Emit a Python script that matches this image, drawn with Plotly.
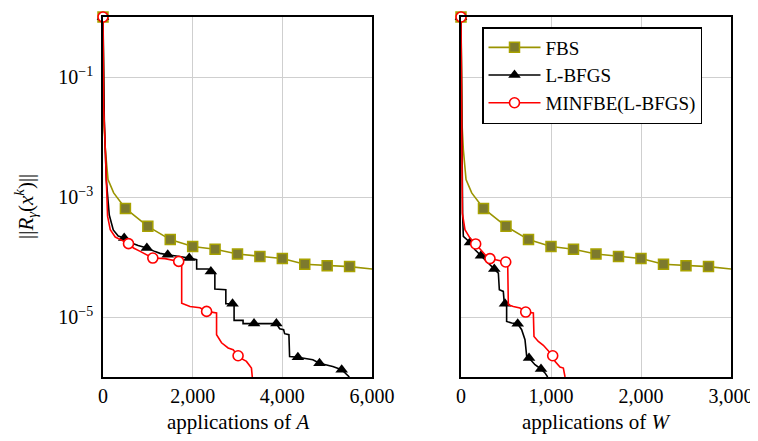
import plotly.graph_objects as go

# ---------------- data ----------------
# FBS: same residual sequence, counted in applications of A and of W
fbs_A_x = [0, 8, 24, 52, 112, 238, 386, 500, 1000, 1500, 2000, 2500, 3000, 3500, 4000, 4500, 5000, 5500, 6000]
fbs_W_x = [0, 4, 12, 26, 56, 119, 193, 250, 500, 750, 1000, 1250, 1500, 1750, 2000, 2250, 2500, 2750, 3000]
fbs_y = [1.0, 0.1, 1.58e-2, 6.2e-3, 1.95e-3, 1.17e-3, 8.5e-4, 6.46e-4, 3.24e-4, 1.95e-4, 1.5e-4,
         1.35e-4, 1.12e-4, 1.02e-4, 9.44e-5, 7.59e-5, 7.16e-5, 6.92e-5, 6.31e-5]
fbs_marks = [0, 7, 8, 9, 10, 11, 12, 13, 14, 15, 16, 17]

# L-BFGS vs applications of A
lb_A_x = [0, 29, 73, 140, 229, 340, 473, 607, 784, 978, 1162, 1273, 1444, 1718, 1924, 2089, 2089, 2347,
          2406, 2495, 2495, 2740, 2740, 2889, 2924, 2924, 3124, 3124, 3369, 3867, 3940, 4029, 4051, 4147,
          4162, 4347, 4680, 4829, 5125, 5324, 5495]
lb_A_y = [1.0, 1.95e-2, 1.95e-3, 5.0e-4, 2.82e-4, 2.24e-4, 2.07e-4, 1.74e-4, 1.55e-4, 1.41e-4, 1.23e-4,
          1.15e-4, 1.09e-4, 1.02e-4, 9.6e-5, 9.0e-5, 6.31e-5, 6.31e-5, 5.75e-5, 5.5e-5, 2.93e-5, 2.85e-5,
          1.66e-5, 1.66e-5, 1.60e-5, 8.77e-6, 8.77e-6, 7.76e-6, 7.76e-6, 7.76e-6, 6.38e-6, 6.14e-6, 5.27e-6,
          5.07e-6, 2.2e-6, 2.14e-6, 1.94e-6, 1.70e-6, 1.50e-6, 1.32e-6, 1.0e-6]
lb_A_marks = [0, 6, 9, 12, 14, 18, 23, 28, 29, 35, 37, 39]

# MINFBE(L-BFGS) vs applications of A
mf_A_x = [0, 15, 51, 102, 162, 273, 569, 680, 829, 940, 1111, 1384, 1689, 1755, 1755, 1940, 2162, 2311,
          2533, 2533, 2644, 2791, 2902, 3013, 3100, 3200, 3311, 3330]
mf_A_y = [1.0, 3.16e-2, 6.2e-3, 4.8e-4, 2.85e-4, 2.15e-4, 1.67e-4, 1.41e-4, 1.24e-4, 1.135e-4, 9.6e-5,
          9.4e-5, 8.45e-5, 7.94e-5, 1.70e-5, 1.50e-5, 1.43e-5, 1.24e-5, 1.17e-5, 5.07e-6, 3.72e-6, 3.05e-6,
          2.85e-6, 2.26e-6, 2.0e-6, 1.82e-6, 1.41e-6, 1.0e-6]
mf_A_marks = [0, 6, 10, 12, 17, 23]

# L-BFGS vs applications of W
lb_W_x = [0, 3, 10, 18, 26, 100, 156, 222, 303, 370, 415, 426, 470, 481, 489, 507, 507, 563, 630, 674,
          711, 730, 756, 822, 889, 933, 963]
lb_W_y = [1.0, 0.1, 3.16e-3, 5.0e-4, 2.2e-4, 1.75e-4, 1.32e-4, 1.05e-4, 7.94e-5, 6.31e-5, 5.4e-5, 2.85e-5,
          2.67e-5, 1.70e-5, 1.67e-5, 1.50e-5, 8.45e-6, 7.94e-6, 7.73e-6, 6.14e-6, 4.19e-6, 2.2e-6, 2.07e-6,
          1.60e-6, 1.36e-6, 1.17e-6, 1.0e-6]
lb_W_marks = [0, 5, 7, 9, 14, 18, 22, 24]

# MINFBE(L-BFGS) vs applications of W
mf_W_x = [0, 5, 15, 44, 100, 163, 230, 285, 322, 396, 497, 519, 526, 581, 655, 719, 804, 811, 859, 915,
          1019, 1044, 1100, 1137, 1156]
mf_W_y = [1.0, 1e-2, 5.4e-4, 2.85e-4, 2.07e-4, 1.65e-4, 1.24e-4, 1.02e-4, 9.4e-5, 9.0e-5, 8.26e-5, 7.45e-5,
          1.60e-5, 1.50e-5, 1.41e-5, 1.21e-5, 1.17e-5, 4.75e-6, 3.92e-6, 3.37e-6, 2.26e-6, 1.82e-6, 1.47e-6,
          1.41e-6, 1.0e-6]
mf_W_marks = [0, 5, 8, 10, 15, 20]

series_names = ["FBS", "L-BFGS", "MINFBE(L-BFGS)"]
y_tickvals = [1e-5, 1e-3, 1e-1]
y_ticktext = ["10<sup>−5</sup>", "10<sup>−3</sup>", "10<sup>−1</sup>"]
x_ticks_A = [0, 2000, 4000, 6000]
x_ticks_W = [0, 1000, 2000, 3000]
x_title_A = "applications of <i>A</i>"
x_title_W = "applications of <i>W</i>"
y_title = "||<i>R</i><sub><i>γ</i></sub>(<i>x</i><sup><i>k</i></sup>)||"

# ---------------- styles ----------------
FONT = "Liberation Serif, Times New Roman, Times, DejaVu Serif, serif"
OLIVE_LINE = "#9a9400"
OLIVE_FILL = "#7d7a2d"
OLIVE_EDGE = "#a8a200"
styles = {
    "FBS": dict(line=dict(color=OLIVE_LINE, width=1.6),
                marker=dict(symbol="square", size=10, color=OLIVE_FILL, line=dict(color=OLIVE_EDGE, width=1.5))),
    "L-BFGS": dict(line=dict(color="black", width=1.6),
                   marker=dict(symbol="triangle-up", size=11, color="black", line=dict(color="black", width=0))),
    "MINFBE(L-BFGS)": dict(line=dict(color="#ff0000", width=1.6),
                           marker=dict(symbol="circle", size=10, color="white", line=dict(color="#ff0000", width=1.6))),
}

fig = go.Figure()

def add_series(name, xs, ys, marks, xa, ya):
    st = styles[name]
    fig.add_trace(go.Scatter(x=xs, y=ys, mode="lines", line=st["line"], showlegend=False,
                             xaxis=xa, yaxis=ya, hoverinfo="skip"))
    fig.add_trace(go.Scatter(x=[xs[i] for i in marks], y=[ys[i] for i in marks], mode="markers",
                             marker=st["marker"], showlegend=False, cliponaxis=False,
                             xaxis=xa, yaxis=ya, hoverinfo="skip"))

# left panel
add_series("FBS", fbs_A_x, fbs_y, fbs_marks, "x", "y")
add_series("L-BFGS", lb_A_x, lb_A_y, lb_A_marks, "x", "y")
add_series("MINFBE(L-BFGS)", mf_A_x, mf_A_y, mf_A_marks, "x", "y")
# right panel
add_series("FBS", fbs_W_x, fbs_y, fbs_marks, "x2", "y2")
add_series("L-BFGS", lb_W_x, lb_W_y, lb_W_marks, "x2", "y2")
add_series("MINFBE(L-BFGS)", mf_W_x, mf_W_y, mf_W_marks, "x2", "y2")

# legend entries
for name in series_names:
    st = styles[name]
    fig.add_trace(go.Scatter(x=[None], y=[None], mode="lines+markers", name=name,
                             line=st["line"], marker=st["marker"], xaxis="x2", yaxis="y2"))

# page offset (default body margin of 8px) -> figure is 8px smaller and shifted
PAGE_W, PAGE_H, OFF = 758, 441, 8
W, H = PAGE_W - OFF, PAGE_H - OFF
def px_x(p):
    return (p - OFF) / W
def px_y(p):
    return (PAGE_H - p) / H

axis_common = dict(showline=True, linecolor="black", linewidth=1.6, mirror=True,
                   showgrid=True, gridcolor="#cfcfcf", gridwidth=1, zeroline=False,
                   tickfont=dict(family=FONT, size=20, color="black"), automargin=False)

fig.update_layout(
    width=W, height=H,
    margin=dict(l=0, r=0, t=0, b=0),
    paper_bgcolor="white", plot_bgcolor="white",
    font=dict(family=FONT, color="black"),
    xaxis=dict(domain=[px_x(103), px_x(372)], range=[0, 6000], tickvals=x_ticks_A,
               tickformat=",d", anchor="y", ticks="", **axis_common),
    yaxis=dict(domain=[px_y(377), px_y(17)], type="log", range=[-6, 0], tickvals=y_tickvals,
               ticktext=y_ticktext, anchor="x", ticks="outside", ticklen=4,
               tickcolor="rgba(0,0,0,0)", **axis_common),
    xaxis2=dict(domain=[px_x(461), px_x(731)], range=[0, 3000], tickvals=x_ticks_W,
                tickformat=",d", anchor="y2", ticks="", **axis_common),
    yaxis2=dict(domain=[px_y(377), px_y(17)], type="log", range=[-6, 0], tickvals=y_tickvals,
                ticktext=y_ticktext, showticklabels=False, anchor="x2", ticks="", **axis_common),
    legend=dict(x=px_x(482), y=px_y(27), xanchor="left", yanchor="top",
                bgcolor="white", bordercolor="black", borderwidth=1.5,
                font=dict(family=FONT, size=19, color="black"), tracegroupgap=0, itemwidth=52),
    annotations=[
        dict(text=x_title_A, x=px_x(237.5), y=px_y(422), xref="paper", yref="paper",
             showarrow=False, xanchor="center", yanchor="middle", font=dict(family=FONT, size=21)),
        dict(text=x_title_W, x=px_x(596), y=px_y(422), xref="paper", yref="paper",
             showarrow=False, xanchor="center", yanchor="middle", font=dict(family=FONT, size=21)),
        dict(text=y_title, x=px_x(26), y=px_y(207), xref="paper", yref="paper", textangle=-90,
             showarrow=False, xanchor="center", yanchor="middle", font=dict(family=FONT, size=21)),
    ],
)

fig.write_html("out.html")
